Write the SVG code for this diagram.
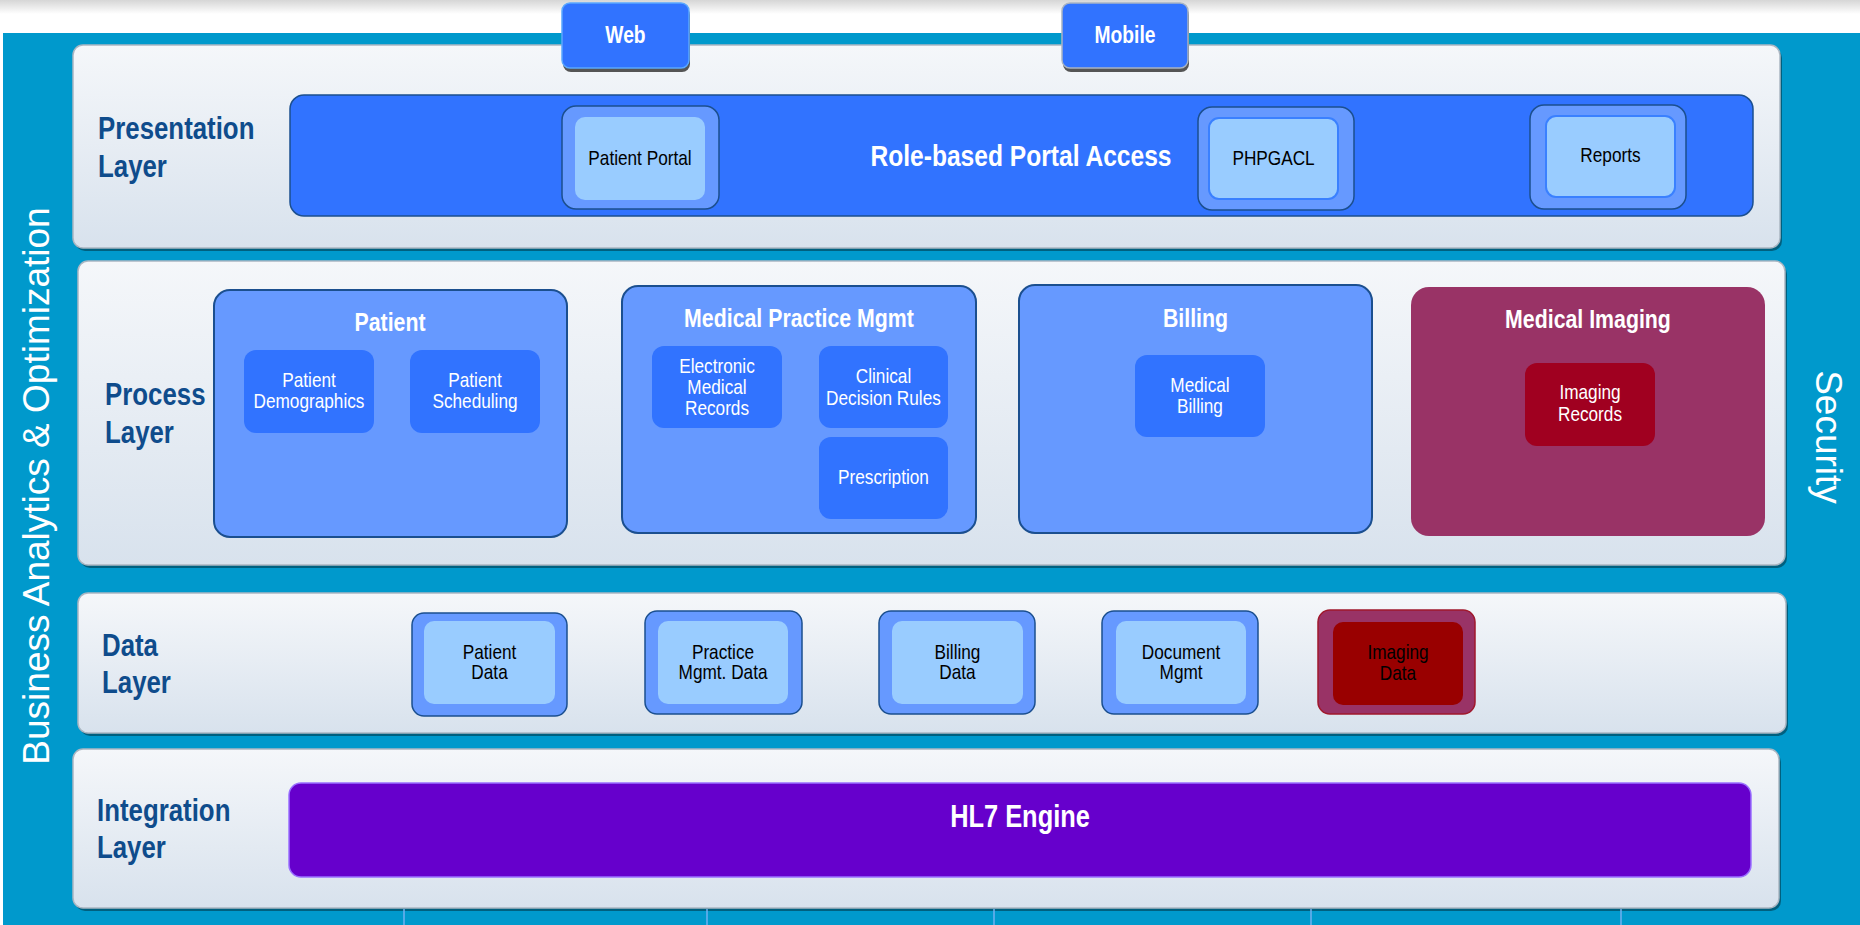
<svg xmlns="http://www.w3.org/2000/svg" width="1860" height="925" viewBox="0 0 1860 925">
<defs>
<linearGradient id="topg" x1="0" y1="0" x2="0" y2="1"><stop offset="0" stop-color="#d6d6d6"/><stop offset="1" stop-color="#ffffff"/></linearGradient>
<linearGradient id="panelg" x1="0" y1="0" x2="0" y2="1"><stop offset="0" stop-color="#f5f7fa"/><stop offset="1" stop-color="#d8e2ed"/></linearGradient>
</defs>
<style>
.t{font-family:"Liberation Sans",Arial,sans-serif;transform-box:fill-box;transform-origin:center;transform:scaleX(0.82)}
.layer{font-size:31.5px;font-weight:bold;fill:#0f4c8c;transform-origin:left center}
.title{font-size:26px;font-weight:bold;fill:#fff;text-anchor:middle}
.btn{font-size:23.5px;font-weight:bold;fill:#fff;text-anchor:middle}
.sw{font-size:21px;fill:#fff;text-anchor:middle}
.sb{font-size:21px;fill:#000;text-anchor:middle}
.panel{fill:url(#panelg);stroke:#aab6c2;stroke-width:1.5}
.shadow{fill:#00607f}
.grp{fill:#6699ff;stroke:#1b4f8f;stroke-width:2}
.sub{fill:#3173ff}
.outer{fill:#6699ff;stroke:#1b4f8f;stroke-width:1.5}
.inner{fill:#99ccff}
.inner2{fill:#99ccff;stroke:#3a80ff;stroke-width:2}
.side{font-family:"Liberation Sans",Arial,sans-serif;font-size:37px;fill:#fff;text-anchor:middle}
.vline{stroke:#70b0f0;stroke-width:1.5}
</style>

<g id="background">
<rect width="1860" height="925" fill="#fff"/>
<rect x="0" y="0" width="1860" height="14" fill="url(#topg)"/>
<rect x="3" y="33" width="1857" height="892" fill="#0099cc"/>
<text class="side" transform="translate(49,486) rotate(-90)">Business Analytics &amp; Optimization</text>
<text class="side" transform="translate(1816,437) rotate(90)">Security</text>
</g>

<g id="presentation-layer">
<rect class="shadow" x="75" y="48" width="1707" height="203" rx="10"/>
<rect class="panel" x="73" y="45" width="1707" height="203" rx="10"/>
<text class="t layer" x="98" y="139">Presentation</text>
<text class="t layer" x="98" y="177">Layer</text>
</g>

<g id="process-layer">
<rect class="shadow" x="80" y="264" width="1707" height="304" rx="10"/>
<rect class="panel" x="78" y="261" width="1707" height="304" rx="10"/>
<text class="t layer" x="105" y="405">Process</text>
<text class="t layer" x="105" y="443">Layer</text>
</g>

<g id="data-layer">
<rect class="shadow" x="80" y="596" width="1708" height="140" rx="10"/>
<rect class="panel" x="78" y="593" width="1708" height="140" rx="10"/>
<text class="t layer" x="102" y="656">Data</text>
<text class="t layer" x="102" y="693">Layer</text>
</g>

<g id="integration-layer">
<rect class="shadow" x="75" y="752" width="1706" height="159" rx="10"/>
<rect class="panel" x="73" y="749" width="1706" height="159" rx="10"/>
<text class="t layer" x="97" y="821">Integration</text>
<text class="t layer" x="97" y="858">Layer</text>
</g>

<g id="connectors">
<line class="vline" x1="404" y1="909" x2="404" y2="925"/>
<line class="vline" x1="707" y1="909" x2="707" y2="925"/>
<line class="vline" x1="994" y1="909" x2="994" y2="925"/>
<line class="vline" x1="1311" y1="909" x2="1311" y2="925"/>
<line class="vline" x1="1621" y1="909" x2="1621" y2="925"/>
</g>

<g id="web">
<rect x="563" y="7" width="127" height="65" rx="8" fill="#555"/>
<rect x="562" y="3" width="127" height="65" rx="8" fill="#3173ff" stroke="#5aa8ff" stroke-width="1.5"/>
<text class="t btn" x="625.5" y="43">Web</text>
</g>

<g id="mobile">
<rect x="1063" y="7" width="126" height="65" rx="8" fill="#555"/>
<rect x="1062" y="3" width="126" height="65" rx="8" fill="#3173ff" stroke="#a8b4c4" stroke-width="1.5"/>
<text class="t btn" x="1125" y="43">Mobile</text>
</g>

<g id="role-based-portal-access">
<rect x="290" y="95" width="1463" height="121" rx="14" fill="#3173ff" stroke="#1b4f8f" stroke-width="1.5"/>
<text class="t" x="1021" y="166" font-size="30" font-weight="bold" fill="#fff" text-anchor="middle">Role-based Portal Access</text>
</g>

<g id="patient-portal">
<rect class="outer" x="562" y="106" width="157" height="103" rx="14"/>
<rect class="inner" x="575" y="117" width="130" height="83" rx="10"/>
<text class="t sb" x="640" y="165">Patient Portal</text>
</g>

<g id="phpgacl">
<rect class="outer" x="1198" y="107" width="156" height="103" rx="14"/>
<rect class="inner2" x="1209" y="118" width="129" height="81" rx="10"/>
<text class="t sb" x="1273.5" y="165">PHPGACL</text>
</g>

<g id="reports">
<rect class="outer" x="1530" y="105" width="156" height="104" rx="14"/>
<rect class="inner2" x="1546" y="116" width="129" height="81" rx="10"/>
<text class="t sb" x="1610.5" y="162">Reports</text>
</g>

<g id="patient">
<rect class="grp" x="214" y="290" width="353" height="247" rx="16"/>
<text class="t title" x="390" y="331">Patient</text>
</g>
<g id="patient-demographics">
<rect class="sub" x="244" y="350" width="130" height="83" rx="12"/>
<text class="t sw" x="309" y="387">Patient</text>
<text class="t sw" x="309" y="408">Demographics</text>
</g>
<g id="patient-scheduling">
<rect class="sub" x="410" y="350" width="130" height="83" rx="12"/>
<text class="t sw" x="475" y="387">Patient</text>
<text class="t sw" x="475" y="408">Scheduling</text>
</g>

<g id="medical-practice-mgmt">
<rect class="grp" x="622" y="286" width="354" height="247" rx="16"/>
<text class="t title" x="799" y="327">Medical Practice Mgmt</text>
</g>
<g id="electronic-medical-records">
<rect class="sub" x="652" y="346" width="130" height="82" rx="12"/>
<text class="t sw" x="717" y="373">Electronic</text>
<text class="t sw" x="717" y="394">Medical</text>
<text class="t sw" x="717" y="415">Records</text>
</g>
<g id="clinical-decision-rules">
<rect class="sub" x="819" y="346" width="129" height="82" rx="12"/>
<text class="t sw" x="883.5" y="383">Clinical</text>
<text class="t sw" x="883.5" y="405">Decision Rules</text>
</g>
<g id="prescription">
<rect class="sub" x="819" y="437" width="129" height="82" rx="12"/>
<text class="t sw" x="883.5" y="484">Prescription</text>
</g>

<g id="billing">
<rect class="grp" x="1019" y="285" width="353" height="248" rx="16"/>
<text class="t title" x="1195.5" y="327">Billing</text>
</g>
<g id="medical-billing">
<rect class="sub" x="1135" y="355" width="130" height="82" rx="12"/>
<text class="t sw" x="1200" y="392">Medical</text>
<text class="t sw" x="1200" y="413">Billing</text>
</g>

<g id="medical-imaging">
<rect x="1411" y="287" width="354" height="249" rx="18" fill="#993366"/>
<text class="t title" x="1588" y="328">Medical Imaging</text>
</g>
<g id="imaging-records">
<rect x="1525" y="363" width="130" height="83" rx="12" fill="#a00020"/>
<text class="t sw" x="1590" y="399">Imaging</text>
<text class="t sw" x="1590" y="421">Records</text>
</g>

<g id="patient-data">
<rect class="outer" x="412" y="613" width="155" height="103" rx="12"/>
<rect class="inner" x="424" y="621" width="131" height="83" rx="10"/>
<text class="t sb" x="489.5" y="659">Patient</text>
<text class="t sb" x="489.5" y="679">Data</text>
</g>
<g id="practice-mgmt-data">
<rect class="outer" x="645" y="611" width="157" height="103" rx="12"/>
<rect class="inner" x="658" y="621" width="130" height="83" rx="10"/>
<text class="t sb" x="723" y="659">Practice</text>
<text class="t sb" x="723" y="679">Mgmt. Data</text>
</g>
<g id="billing-data">
<rect class="outer" x="879" y="611" width="156" height="103" rx="12"/>
<rect class="inner" x="892" y="621" width="131" height="83" rx="10"/>
<text class="t sb" x="957.5" y="659">Billing</text>
<text class="t sb" x="957.5" y="679">Data</text>
</g>
<g id="document-mgmt">
<rect class="outer" x="1102" y="611" width="156" height="103" rx="12"/>
<rect class="inner" x="1116" y="621" width="130" height="83" rx="10"/>
<text class="t sb" x="1181" y="659">Document</text>
<text class="t sb" x="1181" y="679">Mgmt</text>
</g>
<g id="imaging-data">
<rect x="1318" y="610" width="157" height="104" rx="12" fill="#993366" stroke="#a0182c" stroke-width="1.5"/>
<rect x="1333" y="622" width="130" height="83" rx="10" fill="#990000"/>
<text class="t sb" x="1398" y="659">Imaging</text>
<text class="t sb" x="1398" y="680">Data</text>
</g>

<g id="hl7-engine">
<rect x="289" y="783" width="1462" height="94" rx="12" fill="#6600cc" stroke="#9a70ff" stroke-width="1.5"/>
<text class="t" x="1020" y="827" font-size="31" font-weight="bold" fill="#fff" text-anchor="middle">HL7 Engine</text>
</g>
</svg>
